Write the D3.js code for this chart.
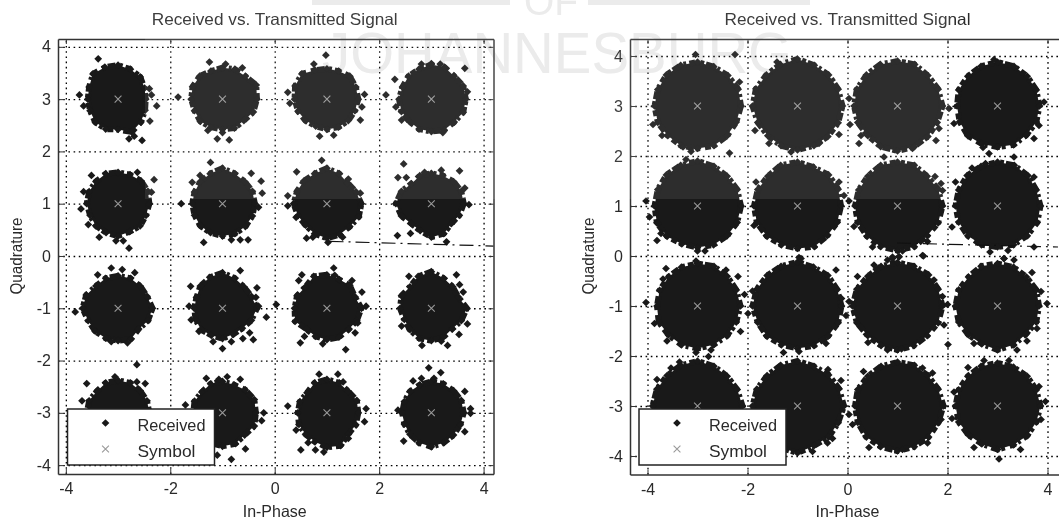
<!DOCTYPE html>
<html>
<head>
<meta charset="utf-8">
<script src="https://cdn.jsdelivr.net/npm/d3@7"></script>
<style>
  html, body { margin: 0; padding: 0; background: #fff; overflow: hidden; }
  svg { display: block; filter: blur(0.3px); }
  text { font-family: "Liberation Sans", Arial, sans-serif; fill: #2a2a2a; }
</style>
</head>
<body>
<div id="chart"></div>
<script>
// symbol grid (row order matches the radii and stray tables below)
const inPhaseLevels = [-3, -1, 1, 3];
const quadratureLevels = [3, 1, -1, -3];
const xTicks = [-4, -2, 0, 2, 4];
const yTicks = [-4, -3, -2, -1, 0, 1, 2, 3, 4];
const legendLabels = ['Received', 'Symbol'];

// Too many overlapping points to read one by one, so each cloud is kept as its
// outline: distance from the symbol, read at 16 directions (0 = east, counterclockwise)
const leftRadii = [
  [.53,.55,.60,.62,.65,.66,.68,.60,.58,.58,.62,.62,.58,.68,.62,.56],
  [.66,.70,.62,.62,.60,.58,.62,.62,.60,.58,.60,.58,.58,.60,.58,.64],
  [.60,.60,.62,.58,.58,.60,.68,.66,.62,.60,.58,.56,.58,.58,.58,.58],
  [.66,.66,.62,.66,.66,.62,.62,.60,.62,.62,.60,.62,.62,.64,.62,.66],
  [.60,.62,.62,.60,.60,.62,.60,.60,.60,.58,.60,.60,.62,.58,.60,.58],
  [.62,.62,.60,.62,.68,.62,.60,.58,.58,.58,.60,.60,.62,.62,.62,.62],
  [.66,.60,.56,.62,.68,.62,.62,.62,.64,.60,.58,.62,.66,.64,.62,.66],
  [.62,.62,.60,.58,.58,.58,.54,.62,.68,.62,.54,.56,.64,.62,.54,.58],
  [.66,.60,.60,.62,.62,.62,.60,.66,.68,.62,.62,.62,.62,.64,.56,.62],
  [.66,.60,.58,.62,.68,.64,.60,.54,.54,.56,.58,.56,.58,.54,.54,.60],
  [.66,.58,.62,.60,.64,.66,.58,.62,.62,.66,.56,.58,.60,.60,.58,.62],
  [.68,.56,.58,.62,.70,.66,.58,.62,.60,.56,.58,.62,.62,.60,.56,.62],
  [.60,.60,.60,.62,.62,.62,.58,.60,.60,.60,.60,.60,.60,.60,.60,.60],
  [.64,.66,.62,.58,.60,.60,.56,.58,.56,.60,.60,.62,.64,.64,.60,.66],
  [.60,.62,.58,.62,.64,.62,.54,.56,.56,.58,.58,.60,.66,.68,.58,.60],
  [.62,.62,.60,.60,.60,.58,.58,.56,.56,.56,.58,.62,.65,.62,.60,.60]
];

// received points sitting outside the outline, as offsets from their symbol
const leftStray = [
  [[-.38,.77],[-.74,.08],[-.66,-.13],[.74,-.13],[.61,-.42],[.46,-.79],[.21,-.76],[.31,-.71],[.64,.08],[.60,.20]],
  [[-.25,.71],[.06,.67],[-.85,.04],[-.10,-.76],[.13,-.78],[0,-.64],[.38,.60],[-.28,-.6]],
  [[-.02,.84],[-.25,.67],[-.75,.13],[-.71,-.08],[.72,.09],[.64,-.40],[.13,-.69],[-.14,-.71],[.67,-.15]],
  [[.64,.59],[-.87,.08],[-.7,.38],[-.68,-.15],[-.19,.67],[0,.68],[.17,.67],[.69,.14],[.22,-.64],[-.57,-.4]],
  [[-.51,.54],[-.66,.23],[-.71,-.10],[.69,.46],[.64,.22],[.21,-.85],[.10,-.71],[-.04,-.71],[-.36,-.64],[-.57,-.40],[.37,.6]],
  [[-.23,.79],[-.43,.54],[-.58,.41],[-.79,0],[.55,.58],[.74,.43],[.76,.2],[.69,-.07],[-.36,-.74],[.17,-.69],[.34,-.69],[.49,-.69]],
  [[-.1,.83],[-.58,.61],[.41,.47],[.64,.2],[-.75,.15],[-.75,-.04],[-.59,-.26],[-.39,-.66],[-.27,-.64],[.02,-.74],[.3,-.64]],
  [[-.53,.76],[-.64,.5],[.19,.64],[.54,.63],[.64,.3],[.72,-.02],[-.65,-.61],[-.4,-.57],[.29,-.73],[-.48,.5],[-.13,.6]],
  [[-.13,.77],[.08,.74],[-.39,.64],[.32,.68],[-.82,-.07],[.18,-.66],[-.13,-.64]],
  [[.34,.72],[-.61,.42],[.66,.39],[.64,.21],[.69,.04],[.84,-.17],[-.64,.04],[-.6,-.22],[-.45,-.44],[-.18,-.64],[0,-.77],[.17,-.64],[.39,-.58],[.52,-.47],[.59,-.6]],
  [[.13,.77],[.15,.63],[-.48,.64],[-.54,.53],[.48,.53],[.67,.31],[-.97,.07],[.75,.04],[.59,-.28],[.54,-.47],[-.51,-.66],[-.08,-.68],[.36,-.79],[-.43,-.54]],
  [[-.43,.61],[.48,.64],[.61,.31],[.54,.45],[.69,-.3],[.53,-.5],[.31,-.71],[-.57,-.34],[-.18,-.71],[.19,-.63]],
  [[.36,.92],[.36,.59],[.52,.56],[-.06,.69],[-.6,.56],[-.69,.23]],
  [[-.31,.66],[-.07,.64],[.09,.69],[.34,.64],[-.71,.15],[.79,0],[.75,-.15],[.44,-.69],[.17,-.89],[-.1,-.81]],
  [[-.15,.74],[.21,.74],[-.75,.13],[.75,.08],[.72,-.17],[-.5,-.71],[-.22,-.71],[-.06,-.75],[-.36,-.57],[-.59,-.33],[.41,-.49],[.31,.59]],
  [[-.05,.86],[.18,.77],[-.35,.61],[.05,.66],[.64,.41],[.75,.08],[.75,-.01],[-.64,.05],[-.53,-.54],[.64,-.36],[-.19,.66]]
];

const rightRadii = [
  [.87,.88,.86,.85,.88,.88,.88,.86,.86,.86,.84,.86,.85,.86,.84,.84],
  [.90,.88,.88,.88,.94,.90,.88,.90,.90,.86,.84,.86,.88,.86,.86,.88],
  [.90,.88,.86,.90,.90,.90,.88,.88,.87,.86,.84,.88,.90,.88,.86,.86],
  [.84,.84,.84,.86,.88,.86,.84,.84,.81,.82,.84,.82,.82,.84,.82,.84],
  [.87,.86,.84,.86,.90,.88,.88,.86,.86,.88,.86,.82,.83,.84,.84,.86],
  [.87,.88,.88,.84,.88,.88,.84,.86,.87,.88,.86,.84,.85,.88,.84,.86],
  [.90,.88,.84,.88,.88,.88,.84,.84,.85,.86,.86,.88,.89,.88,.84,.88],
  [.86,.84,.86,.88,.88,.86,.86,.84,.84,.84,.84,.84,.82,.84,.84,.86],
  [.86,.84,.84,.86,.85,.84,.82,.82,.81,.84,.82,.84,.85,.84,.84,.84],
  [.88,.86,.86,.84,.88,.86,.86,.88,.90,.86,.86,.84,.85,.86,.86,.88],
  [.90,.88,.88,.86,.87,.86,.84,.88,.90,.88,.84,.86,.88,.86,.84,.88],
  [.83,.84,.82,.84,.85,.86,.82,.84,.84,.84,.82,.82,.88,.84,.80,.84],
  [.90,.86,.84,.86,.90,.88,.86,.88,.90,.88,.86,.86,.86,.86,.86,.88],
  [.93,.90,.88,.86,.90,.88,.86,.88,.90,.86,.86,.90,.94,.86,.88,.88],
  [.92,.88,.86,.88,.88,.86,.84,.86,.85,.86,.88,.88,.90,.88,.88,.88],
  [.86,.84,.84,.84,.86,.86,.84,.84,.84,.84,.82,.82,.87,.84,.84,.84]
];

const rightStray = [
  [[-.04,1.03],[.75,1.03],[.84,.48],[-.89,-.37],[-.71,-.59],[-.29,-.82],[-.13,-.91],[.64,-.94]],
  [[-.41,.88],[-.57,-.75],[.43,-.75],[.83,-.57],[-.85,-.49],[-.13,-.92]],
  [[1.03,-.05],[.83,-.45],[.77,-.69],[.3,-.85],[-.27,-1.02],[-.77,-.75],[-.73,-.59],[-.97,.15],[-.95,-.37]],
  [[-.07,.93],[.93,.08],[-.87,-.35],[.73,-.65],[.33,-1.02],[-.17,-.95],[-.29,-.83],[.83,-.39]],
  [[-1.03,.1],[-.96,-.22],[-.79,-.35],[-.73,-.55],[-.81,-.69],[0,-.9],[.15,-.9],[-.23,.93]],
  [[-.83,.48],[.83,.48],[1.03,.1],[-.87,-.39],[.03,-1.03],[.93,.21]],
  [[.75,.59],[.87,.45],[-.87,-.41],[-.5,-.82],[.1,-.9],[-.1,-1.02],[.03,-1.02],[.5,-.99],[.6,-.71],[.9,.31]],
  [[-.84,.48],[-.51,.76],[-.24,.85],[-.91,-.42],[.73,-.82],[-.15,-.92],[.21,-.89],[.13,-1.05],[.73,.58]],
  [[-1.03,.07],[-.69,.54],[-.63,.75],[-.86,-.35],[-.61,-.7],[-.03,-.93],[.27,-.88],[.57,.72],[.81,.59],[.94,.23],[1.01,-.15],[.86,-.51],[-.03,.9]],
  [[.07,.95],[.77,.72],[-.28,-.93],[.03,-.91],[.57,-.75],[-.9,.3],[.97,-.19],[1.03,.09],[.88,.15]],
  [[-.8,.59],[-.2,.92],[-.1,.95],[.03,.99],[.52,1.0],[.73,.52],[.9,.19],[1.0,.03],[.93,-.38],[-.59,-.73],[-.2,-.88],[.08,-.86],[-.47,.82]],
  [[.13,.95],[.33,.92],[.69,.67],[.87,.29],[.99,.05],[-.47,-.75],[-.99,-.77],[.39,-.88],[.59,-.7],[.79,-.45]],
  [[-.81,.53],[-.53,.76],[-.36,.88],[.22,.99]],
  [[.61,.73],[.87,.51],[.7,-.65],[.6,-.74],[.3,-.91]],
  [[-.68,.69],[.5,.76],[.7,.66],[-.97,-.17],[-.9,-.37],[-.57,-.83],[.6,-.74],[.1,-.87],[.87,-.27]],
  [[-.27,.91],[.23,.91],[-.59,.77],[.96,.09],[.87,-.27],[-.91,-.25],[-.87,.28],[-.47,-.83],[.46,-.87],[.03,-1.06],[.83,.39]]
];

// stray dash-dot stroke crossing each panel just above Q = 0
const leftDash = [[1.05, 0.28], [4.19, 0.19]];
const rightDash = [[0.99, 0.26], [4.21, 0.18]];

const width = 1059;
const height = 525;
const inkColor = '#191919';
const symbolColor = '#999999';

const svg = d3.select('#chart').append('svg').attr('width', width).attr('height', height);

// watermark sits behind both panels
const watermark = svg.append('g').attr('class', 'watermark');
watermark.append('text').attr('x', 322).attr('y', 73)
  .attr('textLength', 470).attr('lengthAdjust', 'spacingAndGlyphs')
  .style('font-size', '57px').style('fill', '#e9e9e9').text('JOHANNESBURG');
watermark.append('text').attr('x', 524).attr('y', 15)
  .attr('textLength', 54).attr('lengthAdjust', 'spacingAndGlyphs')
  .style('font-size', '40px').style('fill', '#e9e9e9').text('OF');
watermark.selectAll('rect').data([[312, 198], [588, 222]]).enter().append('rect')
  .attr('x', d => d[0]).attr('y', 0).attr('width', d => d[1]).attr('height', 5)
  .attr('fill', '#e9e9e9');

const points = [];
quadratureLevels.forEach(q => inPhaseLevels.forEach(i => points.push([i, q])));

function drawPanel(opts) {
  const x = d3.scaleLinear().domain(opts.xDomain).range(opts.xRange);
  const y = d3.scaleLinear().domain(opts.yDomain).range(opts.yRange);
  const [left, right] = opts.xRange;
  const [bottom, top] = opts.yRange;
  const panel = svg.append('g').attr('class', 'panel');

  // dotted grid
  panel.append('g').attr('transform', `translate(0,${bottom})`)
    .call(d3.axisBottom(x).tickValues(xTicks).tickSize(-(bottom - top)).tickFormat(''))
    .call(g => g.select('.domain').remove())
    .call(g => g.selectAll('line').attr('stroke', '#000').attr('stroke-width', 1.3).attr('stroke-dasharray', '1.6 3.6'));
  panel.append('g').attr('transform', `translate(${left},0)`)
    .call(d3.axisLeft(y).tickValues(yTicks).tickSize(-(right - left)).tickFormat(''))
    .call(g => g.select('.domain').remove())
    .call(g => g.selectAll('line').attr('stroke', '#000').attr('stroke-width', 1.3).attr('stroke-dasharray', '1.6 3.6'));

  // cloud bodies, the uneven dash only roughens the edge
  const outline = d3.line();
  panel.selectAll('.cloud').data(points).enter().append('path')
    .attr('class', 'cloud')
    .attr('d', (d, k) => outline(opts.radii[k].map((r, s) => {
      const a = s * Math.PI / 8;
      return [x(d[0] + r * Math.cos(a)), y(d[1] + r * Math.sin(a))];
    })) + 'Z')
    .attr('fill', inkColor)
    .attr('stroke', inkColor)
    .attr('stroke-width', 6)
    .attr('stroke-dasharray', '6 3 3 4 8 2 4 5')
    .attr('stroke-linejoin', 'round');

  // individual received points
  const diamond = d3.symbol().type(d3.symbolSquare).size(30);
  const received = [];
  points.forEach((d, k) => {
    opts.radii[k].forEach((r, s) => {
      const a = s * Math.PI / 8;
      received.push([d[0] + r * Math.cos(a), d[1] + r * Math.sin(a)]);
    });
    opts.stray[k].forEach(o => received.push([d[0] + o[0], d[1] + o[1]]));
  });
  panel.selectAll('.received').data(received).enter().append('path')
    .attr('class', 'received')
    .attr('d', diamond)
    .attr('transform', d => `translate(${x(d[0])},${y(d[1])}) rotate(45)`)
    .attr('fill', inkColor);

  // transmitted symbols
  const cross = d3.symbol().type(d3.symbolX).size(32);
  panel.selectAll('.symbol').data(points).enter().append('path')
    .attr('class', 'symbol')
    .attr('d', cross)
    .attr('transform', d => `translate(${x(d[0])},${y(d[1])})`)
    .attr('fill', 'none')
    .attr('stroke', symbolColor)
    .attr('stroke-width', 1.1);

  panel.append('path')
    .attr('d', d3.line().x(d => x(d[0])).y(d => y(d[1]))(opts.dash))
    .attr('fill', 'none').attr('stroke', '#111').attr('stroke-width', 1.2)
    .attr('stroke-dasharray', '14 5 2 5');

  // box and ticks, MATLAB style: inside on all four sides
  const styleAxis = g => {
    g.selectAll('.domain').attr('stroke', '#333').attr('stroke-width', 1.5);
    g.selectAll('line').attr('stroke', '#333');
    g.selectAll('text').style('font-size', '16px').style('font-family', null).attr('fill', '#2a2a2a');
    g.attr('font-family', null);
  };
  panel.append('g').attr('transform', `translate(0,${bottom})`)
    .call(d3.axisBottom(x).tickValues(xTicks).tickSizeInner(-5).tickSizeOuter(0).tickPadding(9).tickFormat(d => d))
    .call(styleAxis);
  panel.append('g').attr('transform', `translate(0,${top})`)
    .call(d3.axisTop(x).tickValues(xTicks).tickSizeInner(-5).tickSizeOuter(0).tickFormat(''))
    .call(styleAxis);
  panel.append('g').attr('transform', `translate(${left},0)`)
    .call(d3.axisLeft(y).tickValues(yTicks).tickSizeInner(-5).tickSizeOuter(0).tickPadding(7).tickFormat(d => d))
    .call(styleAxis);
  panel.append('g').attr('transform', `translate(${right},0)`)
    .call(d3.axisRight(y).tickValues(yTicks).tickSizeInner(-5).tickSizeOuter(0).tickFormat(''))
    .call(styleAxis);

  // titles
  const mid = x(0);
  panel.append('text').attr('x', mid).attr('y', 25).attr('text-anchor', 'middle')
    .attr('textLength', 246).attr('lengthAdjust', 'spacingAndGlyphs')
    .style('font-size', '16.5px').text('Received vs. Transmitted Signal');
  panel.append('text').attr('x', mid).attr('y', 517).attr('text-anchor', 'middle')
    .attr('textLength', 64).attr('lengthAdjust', 'spacingAndGlyphs')
    .style('font-size', '16.5px').text('In-Phase');
  panel.append('text')
    .attr('transform', `translate(${opts.yLabelX},${y(0)}) rotate(-90)`)
    .attr('text-anchor', 'middle')
    .attr('textLength', 77).attr('lengthAdjust', 'spacingAndGlyphs')
    .style('font-size', '16px').text('Quadrature');

  // legend
  const lg = panel.append('g').attr('transform', `translate(${opts.legend[0]},409)`);
  lg.append('rect').attr('width', 147).attr('height', 56)
    .attr('fill', '#fff').attr('stroke', '#222').attr('stroke-width', 1.5);
  lg.append('path').attr('d', diamond).attr('transform', 'translate(38,14) rotate(45)').attr('fill', inkColor);
  lg.append('path').attr('d', cross).attr('transform', 'translate(38,40)')
    .attr('fill', 'none').attr('stroke', symbolColor).attr('stroke-width', 1.1);
  lg.selectAll('.label').data(legendLabels).enter().append('text')
    .attr('class', 'label')
    .attr('x', 70).attr('y', (d, k) => 22 + k * 26)
    .attr('textLength', (d, k) => (k === 0 ? 68 : 58)).attr('lengthAdjust', 'spacingAndGlyphs')
    .style('font-size', '16.5px')
    .text(d => d);
}

drawPanel({
  xDomain: [-4.15, 4.19], xRange: [58, 493.5],
  yDomain: [-4.17, 4.15], yRange: [474, 39],
  radii: leftRadii, stray: leftStray, dash: leftDash,
  yLabelX: 22, legend: [67.5]
});
drawPanel({
  xDomain: [-4.35, 4.35], xRange: [630, 1065],
  yDomain: [-4.37, 4.34], yRange: [474.5, 39],
  radii: rightRadii, stray: rightStray, dash: rightDash,
  yLabelX: 594, legend: [639]
});

// pale band of the watermark washing over the upper clouds
svg.append('rect').attr('x', 145).attr('y', 0).attr('width', 805).attr('height', 199)
  .attr('fill', '#fff').attr('opacity', 0.09).attr('pointer-events', 'none');
</script>
</body>
</html>
